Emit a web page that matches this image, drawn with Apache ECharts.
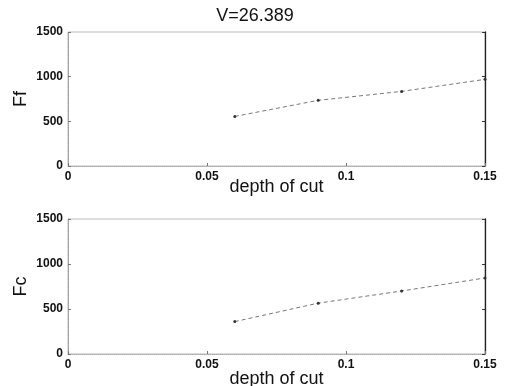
<!DOCTYPE html>
<html>
<head>
<meta charset="utf-8">
<script src="https://cdn.jsdelivr.net/npm/echarts@6/dist/echarts.min.js"></script>
<style>
  html, body { margin: 0; padding: 0; background: #fff; }
  #chart { width: 510px; height: 386px; }
</style>
</head>
<body>
<div id="chart"></div>
<script>
// values
const title = 'V=26.389'
const depth = [0.06, 0.09, 0.12, 0.15]
const ff = [555, 735, 835, 970]
const fc = [360, 565, 700, 845]
const xTicks = [0, 0.05, 0.1, 0.15]
const yTicks = [0, 500, 1000, 1500]

const font = 'Liberation Sans, Arial, sans-serif'
const labelStyle = { color: '#111', fontFamily: font, fontSize: 12, fontWeight: 'bold' }

const chart = echarts.init(document.getElementById('chart'))

const grids = [
  { left: 68, right: 25, top: 32, height: 134 },
  { left: 68, right: 25, top: 219, height: 135 }
]

const xAxis = []
const yAxis = []
const series = []
const names = ['Ff', 'Fc']
const data = [ff, fc]

grids.forEach((g, i) => {
  g.show = true
  g.borderColor = '#bbb'
  g.borderWidth = 1
  g.outerBoundsMode = 'none'
  g.containLabel = false
  // bottom axis with labels
  xAxis.push({
    type: 'value', gridIndex: i,
    min: xTicks[0], max: xTicks[xTicks.length - 1], interval: 0.05,
    name: 'depth of cut', nameLocation: 'middle', nameGap: i === 0 ? 12 : 16,
    nameMoveOverlap: false,
    nameTextStyle: { color: '#111', fontFamily: font, fontSize: 18 },
    axisLine: { lineStyle: { color: '#aaa', type: 'dotted' } },
    axisTick: { inside: true, length: 3, lineStyle: { color: '#777' } },
    axisLabel: { ...labelStyle, margin: 5, formatter: v => String(v) },
    splitLine: { show: false }
  })
  yAxis.push({
    type: 'value', gridIndex: i,
    min: yTicks[0], max: yTicks[yTicks.length - 1], interval: 500,
    name: names[i], nameLocation: 'middle', nameGap: 38,
    nameMoveOverlap: false,
    nameTextStyle: { color: '#111', fontFamily: font, fontSize: 18 },
    axisLine: { show: true, lineStyle: { color: '#999', type: 'dotted' } },
    axisTick: { inside: true, length: 3, lineStyle: { color: '#777' } },
    axisLabel: { ...labelStyle, margin: 5, formatter: v => String(v) },
    splitLine: { show: false }
  })
  // dark right edge
  yAxis.push({
    type: 'value', gridIndex: i, position: 'right',
    min: 0, max: 1500, interval: 500,
    axisLine: { show: true, lineStyle: { color: '#222', width: 1.3 } },
    axisTick: { inside: true, length: 3, lineStyle: { color: '#333' } },
    axisLabel: { show: false },
    splitLine: { show: false }
  })
  series.push({
    type: 'line', xAxisIndex: i, yAxisIndex: i * 2,
    data: depth.map((d, k) => [d, data[i][k]]),
    symbol: 'circle', symbolSize: 3,
    itemStyle: { color: '#333' },
    lineStyle: { color: '#777', width: 1, type: [4, 3] }
  })
})

chart.setOption({
  animation: false,
  title: {
    text: title, left: 'center', top: 2,
    textStyle: { color: '#111', fontFamily: font, fontSize: 18, fontWeight: 'normal' }
  },
  grid: grids,
  xAxis,
  yAxis,
  series
})
</script>
</body>
</html>
